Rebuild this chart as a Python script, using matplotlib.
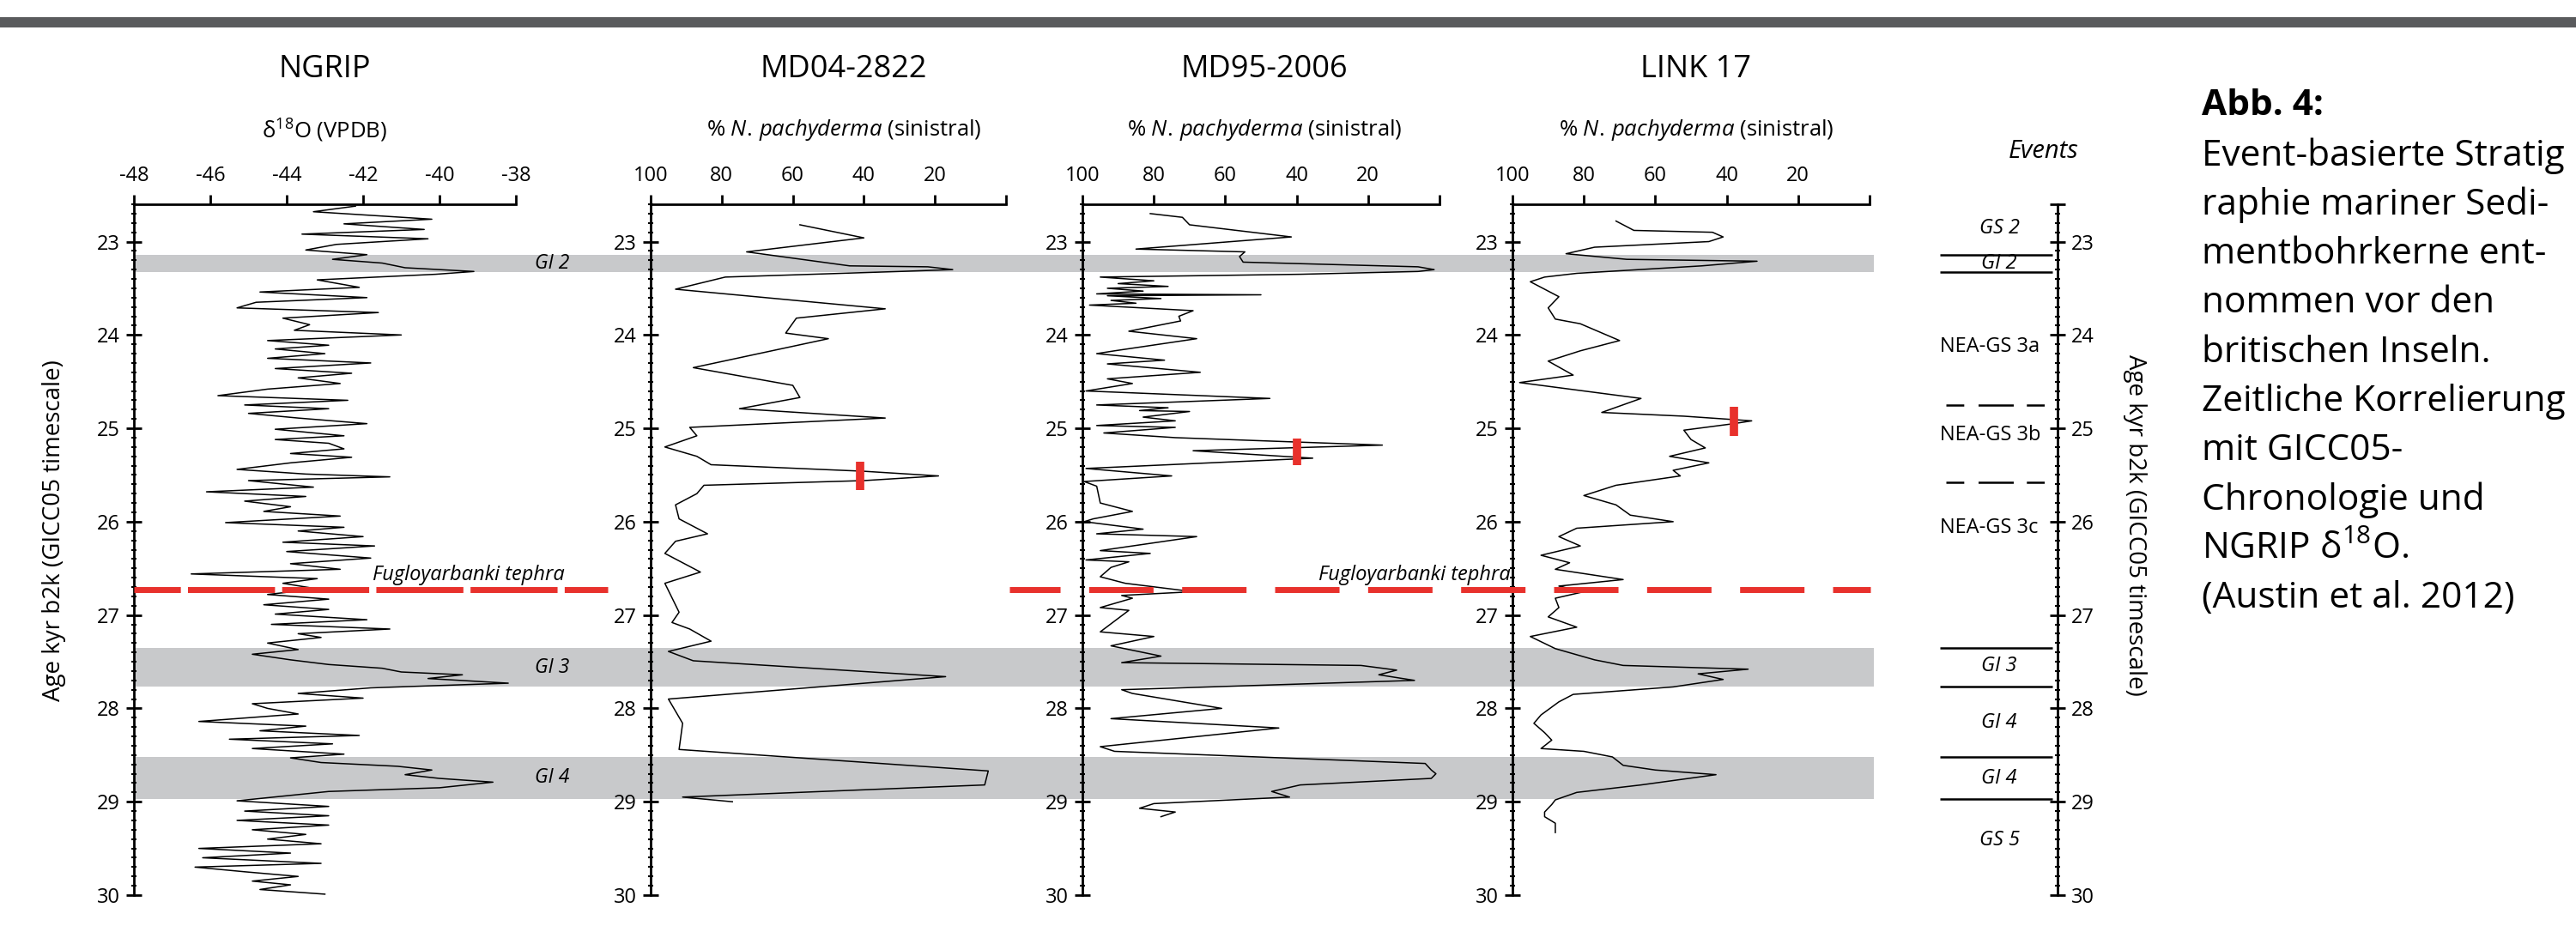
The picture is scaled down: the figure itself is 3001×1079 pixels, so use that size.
import matplotlib.pyplot as plt
from matplotlib.patches import Rectangle
from matplotlib.ticker import MultipleLocator

plt.rcParams['font.family'] = ['Open Sans', 'DejaVu Sans']
plt.rcParams['mathtext.fontset'] = 'custom'
plt.rcParams['mathtext.rm'] = 'Open Sans'
plt.rcParams['mathtext.it'] = 'Open Sans:italic'
plt.rcParams['mathtext.bf'] = 'Open Sans:bold'
plt.rcParams['axes.unicode_minus'] = False
plt.rcParams['lines.scale_dashes'] = False

# ---- values: (age kyr b2k, value) ----
ngrip = [(22.62, -42.2), (22.68, -43.3), (22.76, -40.2), (22.81, -42.5), (22.87, -40.4),
         (22.92, -43.6), (22.97, -40.3), (23.03, -42.7), (23.09, -43.5), (23.14, -41.9),
         (23.19, -42.8), (23.23, -41.5), (23.28, -40.9), (23.32, -39.1), (23.35, -40.1),
         (23.41, -43.2), (23.49, -42.1), (23.54, -44.7), (23.60, -41.9), (23.65, -44.8),
         (23.71, -45.3), (23.76, -41.6), (23.82, -44.1), (23.89, -43.4), (23.95, -43.8),
         (24.00, -41.0), (24.06, -44.5), (24.11, -42.9), (24.15, -44.3), (24.20, -43.0),
         (24.25, -44.5), (24.30, -41.8), (24.36, -44.3), (24.41, -42.3), (24.46, -43.7),
         (24.52, -42.6), (24.58, -44.5), (24.65, -45.8), (24.70, -42.4), (24.75, -45.1),
         (24.79, -42.9), (24.84, -45.0), (24.89, -43.7), (24.95, -41.9), (25.01, -44.3),
         (25.08, -42.5), (25.12, -44.3), (25.16, -42.9), (25.22, -42.5), (25.27, -43.9),
         (25.31, -42.3), (25.37, -43.9), (25.44, -45.3), (25.49, -43.5), (25.52, -41.3),
         (25.56, -45.0), (25.63, -43.3), (25.68, -46.1), (25.73, -43.5), (25.78, -45.1),
         (25.84, -43.9), (25.89, -44.6), (25.94, -42.6), (26.01, -45.6), (26.06, -42.5),
         (26.10, -43.7), (26.16, -42.0), (26.22, -44.1), (26.26, -41.7), (26.32, -44.0),
         (26.39, -41.8), (26.45, -43.9), (26.51, -42.6), (26.56, -46.5), (26.61, -43.2),
         (26.66, -44.1), (26.72, -43.2), (26.78, -44.5), (26.83, -42.9), (26.89, -44.6),
         (26.94, -42.9), (26.99, -44.3), (27.05, -41.9), (27.10, -44.4), (27.15, -41.3),
         (27.20, -43.7), (27.24, -43.1), (27.30, -44.5), (27.37, -43.7), (27.42, -44.9),
         (27.48, -43.9), (27.53, -42.9), (27.57, -41.5), (27.61, -41.0), (27.64, -39.4),
         (27.68, -40.3), (27.73, -38.2), (27.78, -41.8), (27.84, -43.7), (27.89, -42.0),
         (27.95, -44.9), (28.00, -44.5), (28.06, -43.7), (28.14, -46.3), (28.19, -43.5),
         (28.24, -44.7), (28.29, -42.1), (28.33, -45.5), (28.38, -42.8), (28.43, -44.9),
         (28.49, -42.5), (28.53, -43.9), (28.58, -43.1), (28.62, -41.1), (28.66, -40.2),
         (28.71, -40.9), (28.75, -40.0), (28.79, -38.6), (28.85, -40.0), (28.89, -42.9),
         (28.94, -44.1), (28.99, -45.3), (29.05, -42.9), (29.10, -45.1), (29.15, -42.9),
         (29.20, -45.3), (29.25, -42.9), (29.30, -44.9), (29.35, -43.5), (29.40, -44.5),
         (29.45, -43.1), (29.50, -46.3), (29.55, -43.9), (29.60, -46.2), (29.66, -43.1),
         (29.70, -46.4), (29.75, -45.1), (29.80, -43.7), (29.85, -44.9), (29.89, -43.9),
         (29.94, -44.7), (29.99, -43.0)]

md04 = [(22.82, 58), (22.96, 40), (23.11, 73), (23.26, 44), (23.27, 22), (23.30, 15),
        (23.32, 30), (23.38, 79), (23.51, 93), (23.72, 34), (23.82, 59), (23.98, 62),
        (24.04, 50), (24.35, 88), (24.54, 60), (24.67, 58), (24.79, 75), (24.89, 34),
        (24.99, 89), (25.08, 87), (25.20, 96), (25.30, 87), (25.39, 83), (25.46, 40),
        (25.51, 19), (25.56, 40), (25.61, 85), (25.70, 87), (25.82, 93), (25.97, 92),
        (26.13, 84), (26.21, 93), (26.34, 96), (26.54, 86), (26.66, 96), (26.97, 92),
        (27.08, 94), (27.15, 89), (27.28, 83), (27.39, 95), (27.49, 88), (27.66, 17),
        (27.90, 95), (28.16, 91), (28.44, 92), (28.67, 5), (28.82, 6), (28.95, 91), (29.00, 77)]

md95 = [(22.70, 81), (22.74, 72), (22.82, 70), (22.95, 41.5), (23.08, 85), (23.11, 54.5),
        (23.16, 56), (23.22, 55), (23.27, 6), (23.30, 1.5), (23.32, 6), (23.35, 39),
        (23.38, 95), (23.42, 80), (23.45, 90), (23.48, 76), (23.50, 93), (23.53, 83),
        (23.56, 96), (23.57, 50), (23.58, 93), (23.61, 78), (23.63, 92), (23.66, 85),
        (23.68, 98), (23.74, 69), (23.80, 73), (23.85, 72.5), (23.96, 87), (24.04, 68),
        (24.17, 91), (24.20, 96), (24.27, 77), (24.31, 93), (24.40, 67), (24.47, 93),
        (24.52, 86), (24.60, 99), (24.68, 47.5), (24.75, 96), (24.78, 76), (24.81, 84),
        (24.82, 70), (24.88, 83), (24.92, 74), (24.97, 96), (24.99, 74), (25.05, 94),
        (25.10, 74), (25.18, 16), (25.24, 69), (25.32, 35.5), (25.43, 99), (25.51, 75),
        (25.57, 99.5), (25.62, 96), (25.80, 95), (25.89, 86), (25.97, 97), (26.00, 99.5),
        (26.08, 83), (26.13, 96), (26.16, 68), (26.31, 95), (26.34, 81), (26.41, 99),
        (26.43, 87), (26.49, 92), (26.59, 95), (26.66, 88), (26.75, 69), (26.79, 89),
        (26.82, 86), (26.92, 95), (26.95, 87), (27.18, 95), (27.23, 80), (27.33, 92),
        (27.44, 78), (27.51, 89), (27.54, 22), (27.59, 12), (27.64, 17), (27.70, 7),
        (27.80, 89), (27.84, 86), (28.00, 61), (28.11, 92), (28.21, 45), (28.41, 95),
        (28.46, 91), (28.59, 4), (28.66, 2.3), (28.70, 1), (28.75, 2.3), (28.82, 39),
        (28.89, 47), (28.95, 42), (29.02, 80), (29.07, 84), (29.11, 74), (29.16, 78)]

link17 = [(22.78, 71), (22.88, 66), (22.90, 44), (22.95, 41), (23.00, 45), (23.06, 77),
          (23.13, 85), (23.19, 68), (23.21, 31.5), (23.26, 47), (23.34, 82), (23.38, 91),
          (23.43, 95), (23.59, 87), (23.71, 90), (23.83, 88), (23.88, 81), (24.06, 70),
          (24.17, 81), (24.28, 90), (24.43, 83), (24.51, 98), (24.68, 64), (24.83, 75),
          (24.87, 52), (24.92, 33), (24.95, 38), (25.02, 52), (25.12, 50), (25.21, 46),
          (25.30, 56), (25.37, 45), (25.45, 55), (25.51, 53), (25.61, 71), (25.72, 80),
          (25.82, 71), (25.93, 67), (26.00, 55), (26.07, 82), (26.16, 87), (26.26, 81),
          (26.36, 92), (26.44, 84), (26.51, 88), (26.62, 69), (26.69, 87), (26.75, 80),
          (26.82, 88), (26.92, 87), (27.02, 90), (27.13, 82), (27.23, 95), (27.36, 88),
          (27.48, 77), (27.54, 69), (27.58, 34), (27.63, 48), (27.69, 41), (27.77, 55),
          (27.85, 83), (27.93, 87), (28.07, 92), (28.16, 94), (28.26, 91), (28.34, 89),
          (28.43, 92), (28.46, 80), (28.52, 72), (28.61, 69), (28.66, 60), (28.71, 43),
          (28.82, 64), (28.90, 82), (28.98, 88), (29.03, 89), (29.11, 91), (29.16, 91),
          (29.23, 88), (29.33, 88)]

panel_titles = ['NGRIP', 'MD04-2822', 'MD95-2006', 'LINK 17']
ngrip_ticks = [-48, -46, -44, -42, -40, -38]
pct_ticks = [100, 80, 60, 40, 20, 0]
pct_ticklabels = ['100', '80', '60', '40', '20', '']

AGE_TOP, AGE_BOT = 22.6, 30.0
gi_tops = [23.14, 27.35, 28.52]
gi_bots = [23.33, 27.77, 28.97]
gi_labels = ['GI 2', 'GI 3', 'GI 4']
tephra_age = 26.73

tie_pct = [41, 40, 38]          # MD04, MD95, LINK 17
tie_top = [25.36, 25.11, 24.77]
tie_bot = [25.66, 25.39, 25.08]

event_bounds = [23.14, 23.33, 27.35, 27.77, 28.52, 28.97]
event_dashed = [24.75, 25.58]
event_names = ['GS 2', 'GI 2', 'NEA-GS 3a', 'NEA-GS 3b', 'NEA-GS 3c', 'GI 3', 'GI 4', 'GI 4', 'GS 5']
event_ages = [22.86, 23.23, 24.13, 25.07, 26.07, 27.55, 28.15, 28.75, 29.41]

caption = ['Event-basierte Stratig', 'raphie mariner Sedi-', 'mentbohrkerne ent-',
           'nommen vor den', 'britischen Inseln.', 'Zeitliche Korrelierung',
           'mit GICC05-', 'Chronologie und', 'NGRIP δ$^{18}$O.', '(Austin et al. 2012)']

# ---- layout (pixels of the 3001 x 1079 canvas) ----
W, H, DPI = 3001, 1079, 100
Y_TOP, Y_BOT = 238, 1043
GREY, RED = '#c8c9cb', '#e8312c'


def box(x0, x1, y0=Y_TOP, y1=Y_BOT):
    return [x0 / W, 1 - y1 / H, (x1 - x0) / W, (y1 - y0) / H]


def fy(py):
    return 1 - py / H


fig = plt.figure(figsize=(W / DPI, H / DPI), dpi=DPI)
fig.add_artist(Rectangle((0, fy(32)), 1, 12 / H, transform=fig.transFigure,
                         color='#5a5b5d', lw=0))

# grey interstadial bands behind all panels
bg = fig.add_axes(box(156, 2183), zorder=0)
bg.set_xlim(0, 1)
bg.set_ylim(AGE_BOT, AGE_TOP)
bg.axis('off')
for a, b in zip(gi_tops, gi_bots):
    bg.axhspan(a, b, color=GREY, lw=0)

series = [ngrip, md04, md95, link17]
xspans = [(156, 601), (758, 1172), (1261, 1677), (1762, 2178)]
title_dx = [0, 18, 4, 6]
subtitles = ['δ$^{18}$O (VPDB)'] + [r'% $\mathit{N.\,pachyderma}$ (sinistral)'] * 3

for i, data in enumerate(series):
    x0, x1 = xspans[i]
    ax = fig.add_axes(box(x0, x1), zorder=1)
    ax.patch.set_visible(False)
    ages = [a for a, v in data]
    vals = [v for a, v in data]
    ax.plot(vals, ages, color='black', lw=1.1)
    if i == 0:
        ax.set_xlim(-48, -38)
        ax.set_xticks(ngrip_ticks, [str(t) for t in ngrip_ticks])
    else:
        ax.set_xlim(100, 0)
        ax.set_xticks(pct_ticks, pct_ticklabels)
        ax.plot([tie_pct[i - 1]] * 2, [tie_top[i - 1], tie_bot[i - 1]], color=RED,
                lw=7, solid_capstyle='butt', zorder=5)
    ax.set_ylim(AGE_BOT, AGE_TOP)
    for s in ('right', 'bottom'):
        ax.spines[s].set_visible(False)
    for s in ('left', 'top'):
        ax.spines[s].set_linewidth(2)
    ax.xaxis.tick_top()
    ax.tick_params(axis='x', direction='out', length=8, width=2, pad=7, labelsize=17)
    ax.yaxis.set_major_locator(MultipleLocator(1))
    ax.yaxis.set_minor_locator(MultipleLocator(0.1))
    ax.tick_params(axis='y', which='major', direction='inout', length=13, width=2,
                   pad=5, labelsize=17)
    ax.tick_params(axis='y', which='minor', direction='inout', length=5, width=1.5)
    xc = (x0 + x1) / 2 + title_dx[i]
    fig.text(xc / W, fy(81), panel_titles[i], ha='center', va='center', fontsize=26)
    fig.text(xc / W, fy(152), subtitles[i], ha='center', va='center', fontsize=18.5)

# overlay in pixel units for the tephra marker and band labels
ov = fig.add_axes(box(0, W), zorder=10)
ov.set_xlim(0, W)
ov.set_ylim(AGE_BOT, AGE_TOP)
ov.axis('off')
ov.plot([156, 708], [tephra_age] * 2, color=RED, lw=5,
        linestyle=(34, (73, 6)))
ov.plot([1176, 2179], [tephra_age] * 2, color=RED, lw=5,
        linestyle=(11.5, (54, 24)))
ov.text(434, tephra_age - 0.1, 'Fugloyarbanki tephra', style='italic', fontsize=17,
        ha='left', va='baseline')
ov.text(1760, tephra_age - 0.1, 'Fugloyarbanki tephra', style='italic', fontsize=17,
        ha='right', va='baseline')
for a, b, lab in zip(gi_tops, gi_bots, gi_labels):
    ov.text(643, (a + b) / 2, lab, style='italic', fontsize=16.5, ha='center', va='center')

# events column
ev = fig.add_axes(box(2250, 2397), zorder=1)
ev.patch.set_visible(False)
ev.set_xlim(2250, 2397)
ev.set_ylim(AGE_BOT, AGE_TOP)
for s in ('left', 'top', 'bottom'):
    ev.spines[s].set_visible(False)
ev.spines['right'].set_linewidth(2)
ev.set_xticks([])
ev.yaxis.tick_right()
ev.set_yticks([AGE_TOP] + list(range(23, 31)), [''] + [str(t) for t in range(23, 31)])
ev.yaxis.set_minor_locator(MultipleLocator(0.1))
ev.tick_params(axis='y', which='major', direction='inout', length=13, width=2, pad=5,
               labelsize=17)
ev.tick_params(axis='y', which='minor', direction='inout', length=5, width=1.5)
ev.hlines(event_bounds, 2260, 2391, color='black', lw=1.8)
for a in event_dashed:
    ev.plot([2267, 2384], [a, a], color='black', lw=1.8,
            linestyle=(0, (15, 12, 29.5, 11)))
for name, a in zip(event_names, event_ages):
    if name.startswith('NEA'):
        ev.text(2260, a, name, fontsize=17, ha='left', va='center')
    else:
        ev.text(2329, a, name, fontsize=17, style='italic', ha='center', va='center')
fig.text(2381 / W, fy(177), 'Events', style='italic', fontsize=21, ha='center', va='center')

ylab = 'Age kyr b2k (GICC05 timescale)'
fig.text(63 / W, fy(618), ylab, rotation=90, fontsize=20, ha='center', va='center')
fig.text(2487 / W, fy(612), ylab, rotation=270, fontsize=20, ha='center', va='center')

# caption
fig.text(2565 / W, fy(124), 'Abb. 4:', fontsize=30.5, fontweight='bold', ha='left', va='center')
for k, line in enumerate(caption):
    fig.text(2565 / W, fy(124 + 57.3 * (k + 1)), line, fontsize=30.5, ha='left', va='center')

fig.savefig('out.png', dpi=DPI)
